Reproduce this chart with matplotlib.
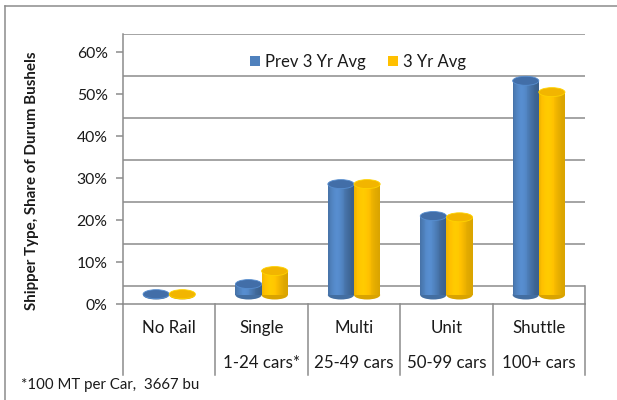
import numpy as np
import matplotlib
matplotlib.use("Agg")
import matplotlib.pyplot as plt
from matplotlib.patches import Rectangle, Ellipse, Patch
from matplotlib.lines import Line2D

# ---- data ----
categories = ["No Rail", "Single", "Multi", "Unit", "Shuttle"]
car_ranges = ["", "1-24 cars*", "25-49 cars", "50-99 cars", "100+ cars"]
prev_3yr = [0.002, 0.026, 0.264, 0.188, 0.510]
cur_3yr = [0.002, 0.057, 0.264, 0.185, 0.483]
series_names = ["Prev 3 Yr Avg", "3 Yr Avg"]
yticks = [0.0, 0.1, 0.2, 0.3, 0.4, 0.5, 0.6]
footnote = "*100 MT per Car,  3667 bu"
ylabel = "Shipper Type, Share of Durum Bushels"

plt.rcParams['font.family'] = ['Lato', 'DejaVu Sans']

W, H = 617, 400
fig = plt.figure(figsize=(W / 100, H / 100), dpi=100)
ax = fig.add_axes([123 / W, 96 / H, 462 / W, 270 / H])

D = 18 / 420.0          # depth offset of back wall (data units)
ell_h = 9 / 420.0       # ellipse height (data units)
bw = 0.283              # cylinder width (category units)
grid_c = "#8c8c8c"
txt_c = "#1a1a1a"

ax.set_xlim(-0.5, 4.5)
ax.set_ylim(0, 0.6 + D)
for s in ["top", "right", "bottom"]:
    ax.spines[s].set_visible(False)
ax.spines["left"].set_color(grid_c)
ax.spines["left"].set_linewidth(1.1)
ax.set_xticks([])
ax.set_yticks(yticks)
ax.set_yticklabels([f"{int(round(v * 100))}%" for v in yticks])
ax.tick_params(axis="y", length=5, width=1.1, color=grid_c, labelsize=11.3,
               pad=6, labelcolor=txt_c)

# back wall gridlines
for v in yticks:
    ax.plot([-0.5, 4.5], [v + D, v + D], color=grid_c, lw=1.1, zorder=1)
# floor front edge and right edge
ax.plot([-0.5, 4.5], [0, 0], color=grid_c, lw=1.1, zorder=1, clip_on=False)
ax.plot([4.5, 4.5], [0, D], color=grid_c, lw=1.1, zorder=1, clip_on=False)

series = [
    (prev_3yr, np.array([79, 129, 189]) / 255, -1, 0.28, np.array([66, 110, 168]) / 255),
    (cur_3yr, np.array([255, 192, 0]) / 255, 0, 0.16, np.array([242, 181, 0]) / 255),
]

nstrip = 30
base = D / 2
for vals, col, off, amp, topc in series:
    for i, v in enumerate(vals):
        x0 = i + off * bw
        # bottom ellipse
        ax.add_patch(Ellipse((x0 + bw / 2, base), bw, ell_h,
                             facecolor=np.clip(col * 0.85, 0, 1),
                             edgecolor="none", zorder=3))
        # body strips
        for k in range(nstrip):
            t = (k + 0.5) / nstrip
            f = (1 - amp) + amp * 1.35 * np.exp(-((t - 0.35) / 0.38) ** 2)
            c = np.clip(col * f, 0, 1)
            ax.add_patch(Rectangle((x0 + k * bw / nstrip, base), bw / nstrip * 1.02, v,
                                   facecolor=c, edgecolor="none", zorder=4))
        # top ellipse
        ax.add_patch(Ellipse((x0 + bw / 2, base + v), bw, ell_h,
                             facecolor=topc, edgecolor=np.clip(col * 1.1, 0, 1),
                             lw=0.6, zorder=5))

# category table below
xt = ax.get_xaxis_transform()
tb = (304 - 375) / 270
for xv in np.arange(-0.5, 5.0, 1.0):
    ax.plot([xv, xv], [0, tb], transform=xt, color=grid_c, lw=1.1, clip_on=False)
for i, (c, r) in enumerate(zip(categories, car_ranges)):
    ax.text(i, (304 - 328) / 270, c, transform=xt, ha="center", va="center",
            fontsize=12.2, color=txt_c)
    if r:
        ax.text(i, (304 - 363) / 270, r, transform=xt, ha="center", va="center",
                fontsize=12.2, color=txt_c)

# legend
handles = [Patch(facecolor=tuple(series[0][1]), edgecolor="none"),
           Patch(facecolor=tuple(series[1][1]), edgecolor="none")]
fig.legend(handles, series_names, loc="center", bbox_to_anchor=(358 / W, 1 - 62 / H),
           ncol=2, frameon=False, fontsize=12.0, handlelength=0.6, handleheight=0.6,
           handletextpad=0.3, columnspacing=1.3, labelcolor=txt_c)

# y label
fig.text(32 / W, 1 - 181 / H, ylabel, rotation=90, ha="center", va="center",
         fontsize=10.9, fontweight="bold", color=txt_c)

# footnote
fig.text(21 / W, 1 - 385 / H, footnote, ha="left", va="center", fontsize=10.8,
         color=txt_c)

# outer chart border
fig.add_artist(Line2D([4.5 / W, 4.5 / W], [0, 1 - 5.5 / H], transform=fig.transFigure,
                      color=grid_c, lw=1.1))
fig.add_artist(Line2D([4.5 / W, 1], [1 - 5.5 / H, 1 - 5.5 / H], transform=fig.transFigure,
                      color=grid_c, lw=1.1))

fig.savefig("out.png", dpi=100)
